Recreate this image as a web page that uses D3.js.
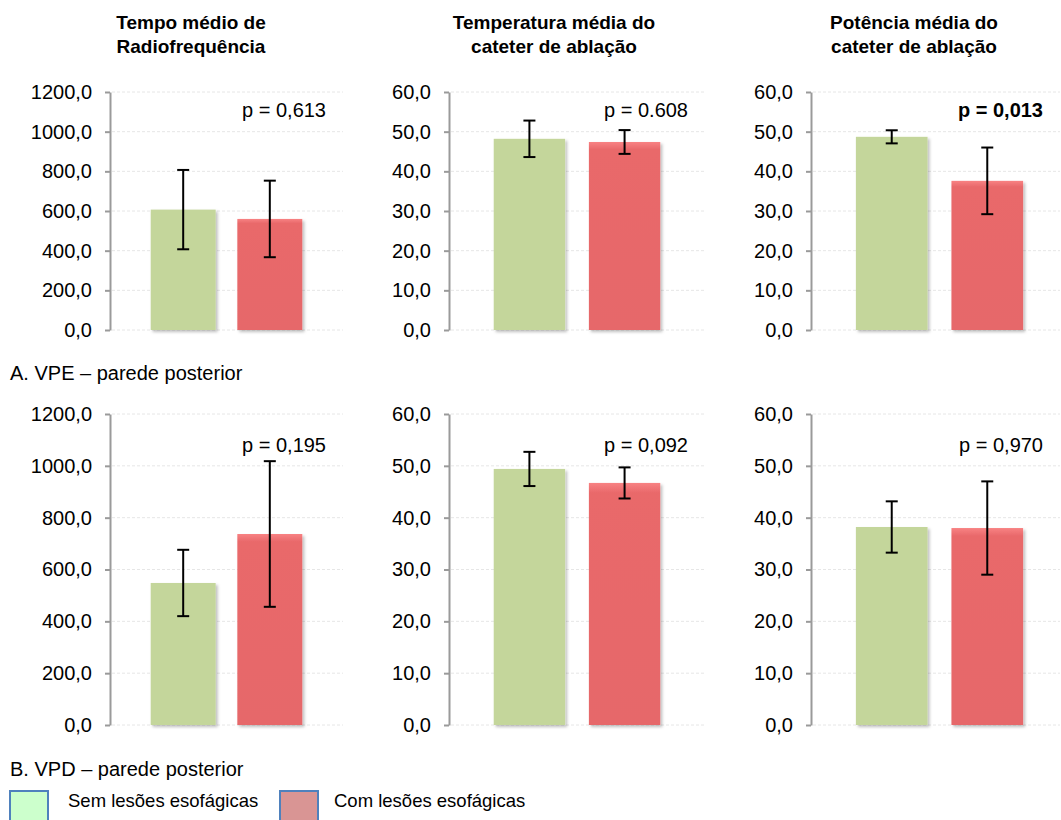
<!DOCTYPE html>
<html>
<head>
<meta charset="utf-8">
<script src="https://cdn.jsdelivr.net/npm/d3@7"></script>
<style>
  body { margin: 0; background: #fff; }
  text { font-family: Arial, "Liberation Sans", sans-serif; fill: #000; }
</style>
</head>
<body>
<div id="chart"></div>
<script>
// chart data
const titles = [
    ["Tempo médio de", "Radiofrequência"],
    ["Temperatura média do", "cateter de ablação"],
    ["Potência média do", "cateter de ablação"]
];
const groups = ["Sem lesões esofágicas", "Com lesões esofágicas"];
const yMax = [1200, 60, 60];
const yStep = [200, 10, 10];

// A. VPE
const meanA = [[607, 560], [48.2, 47.4], [48.7, 37.6]];
const sdA = [[200, 193], [4.6, 3.0], [1.65, 8.4]];
const pA = ["p = 0,613", "p = 0.608", "p = 0,013"];
const pBoldA = [false, false, true];

// B. VPD
const meanB = [[548, 737], [49.4, 46.7], [38.2, 38.0]];
const sdB = [[128, 281], [3.3, 3.0], [4.95, 9.0]];
const pB = ["p = 0,195", "p = 0,092", "p = 0,970"];
const pBoldB = [false, false, false];

const sectionLabels = ["A. VPE \u2013 parede posterior", "B. VPD \u2013 parede posterior"];

const barColor = ["#c4d69b", "#e8686a"];
const legendFill = ["#ccffcc", "#d99594"];

const W = 1061, H = 820;
const colLeft = [110, 449, 811];
const colRight = [343, 705, 1060];
const bandRight = [343, 705, 1068];
const rows = [
    {top: 92, bottom: 330, pY: 117, mean: meanA, sd: sdA, p: pA, bold: pBoldA},
    {top: 414, bottom: 725, pY: 452, mean: meanB, sd: sdB, p: pB, bold: pBoldB}
];

const fmt = d3.formatLocale({decimal: ",", thousands: ".", grouping: [3], currency: ["", ""]}).format(".1f");

var svg = d3.select("#chart")
    .append("svg")
    .attr("width", W)
    .attr("height", H);

var defs = svg.append("defs");
defs.append("filter")
    .attr("id", "shadow")
    .attr("x", "-10%").attr("y", "-10%")
    .attr("width", "130%").attr("height", "130%")
    .append("feDropShadow")
    .attr("dx", 2).attr("dy", 2)
    .attr("stdDeviation", 1.5)
    .attr("flood-color", "#000")
    .attr("flood-opacity", 0.25);

var gradRed = defs.append("linearGradient")
    .attr("id", "gradRed")
    .attr("x1", 0).attr("y1", 0).attr("x2", 0).attr("y2", 1);
gradRed.append("stop").attr("offset", "0%").attr("stop-color", "#f88283");
gradRed.append("stop").attr("offset", "4%").attr("stop-color", "#e9696b");
gradRed.append("stop").attr("offset", "100%").attr("stop-color", "#e6676a");

// titles
titles.forEach(function(t, i){
    var cx = [191, 554, 914][i];
    svg.append("text")
        .attr("x", cx)
        .attr("y", 29)
        .attr("text-anchor", "middle")
        .attr("font-size", "19px")
        .attr("font-weight", "bold")
        .selectAll("tspan")
        .data(t)
        .enter().append("tspan")
        .attr("x", cx)
        .attr("dy", function(d, j){ return j === 0 ? 0 : 24; })
        .text(function(d){ return d; });
});

rows.forEach(function(row){
    for (let c = 0; c < 3; c++) {
        const y = d3.scaleLinear()
            .domain([0, yMax[c]])
            .range([row.bottom, row.top]);
        const x = d3.scaleBand()
            .domain(groups)
            .range([colLeft[c], bandRight[c]])
            .paddingInner(0.25)
            .paddingOuter(0.47);
        const ticks = d3.range(0, yMax[c] + yStep[c] / 2, yStep[c]);

        var g = svg.append("g");

        // gridlines
        g.selectAll(".grid")
            .data(ticks)
            .enter().append("line")
            .attr("x1", colLeft[c] + 2)
            .attr("x2", colRight[c])
            .attr("y1", function(d){ return y(d); })
            .attr("y2", function(d){ return y(d); })
            .style("stroke", "#e6e6e6")
            .style("stroke-width", 1)
            .style("stroke-dasharray", "3,2");

        // bars
        var vals = row.mean[c].map(function(m, k){ return {g: groups[k], m: m, sd: row.sd[c][k], k: k}; });
        g.selectAll(".bar")
            .data(vals)
            .enter().append("rect")
            .attr("x", function(d){ return x(d.g); })
            .attr("y", function(d){ return y(d.m); })
            .attr("width", x.bandwidth())
            .attr("height", function(d){ return y(0) - y(d.m); })
            .attr("filter", "url(#shadow)")
            .style("fill", function(d){ return d.k === 1 ? "url(#gradRed)" : barColor[0]; });

        // error bars
        var eb = g.selectAll(".err")
            .data(vals)
            .enter().append("g")
            .style("stroke", "#000")
            .style("stroke-width", 2);
        eb.append("line")
            .attr("x1", function(d){ return x(d.g) + x.bandwidth() / 2; })
            .attr("x2", function(d){ return x(d.g) + x.bandwidth() / 2; })
            .attr("y1", function(d){ return y(d.m + d.sd); })
            .attr("y2", function(d){ return y(d.m - d.sd); });
        [1, -1].forEach(function(s){
            eb.append("line")
                .attr("x1", function(d){ return x(d.g) + x.bandwidth() / 2 - 6; })
                .attr("x2", function(d){ return x(d.g) + x.bandwidth() / 2 + 6; })
                .attr("y1", function(d){ return y(d.m + s * d.sd); })
                .attr("y2", function(d){ return y(d.m + s * d.sd); });
        });

        // y axis
        var axis = g.append("g")
            .attr("transform", "translate(" + colLeft[c] + ",0)")
            .call(d3.axisLeft(y).tickValues(ticks).tickFormat(fmt).tickSize(5).tickPadding(13).tickSizeOuter(0));
        axis.select(".domain").style("stroke", "#9a9a9a").style("stroke-width", 2);
        axis.selectAll(".tick line").style("stroke", "#9a9a9a").style("stroke-width", 2);
        axis.selectAll(".tick text")
            .attr("font-family", "Arial, 'Liberation Sans', sans-serif")
            .attr("font-size", "20px")
            .style("fill", "#000");

        // p value
        g.append("text")
            .attr("x", colRight[c] - 17)
            .attr("y", row.pY)
            .attr("text-anchor", "end")
            .attr("font-size", "20px")
            .attr("font-weight", row.bold[c] ? "bold" : "normal")
            .text(row.p[c]);
    }
});

// section labels
svg.append("text")
    .attr("x", 10)
    .attr("y", 380)
    .attr("font-size", "20px")
    .text(sectionLabels[0]);
svg.append("text")
    .attr("x", 10)
    .attr("y", 776)
    .attr("font-size", "20px")
    .text(sectionLabels[1]);

// legend
var leg = svg.selectAll(".leg")
    .data(groups)
    .enter().append("g")
    .attr("transform", function(d, i){ return "translate(" + [10, 280][i] + ",791)"; });
leg.append("rect")
    .attr("x", 0)
    .attr("y", 0)
    .attr("width", 38)
    .attr("height", 40)
    .style("fill", function(d, i){ return legendFill[i]; })
    .style("stroke", "#4f81bd")
    .style("stroke-width", 2);
leg.append("text")
    .attr("x", function(d, i){ return [58, 54][i]; })
    .attr("y", 16)
    .attr("font-size", "18.5px")
    .text(function(d){ return d; });
</script>
</body>
</html>
